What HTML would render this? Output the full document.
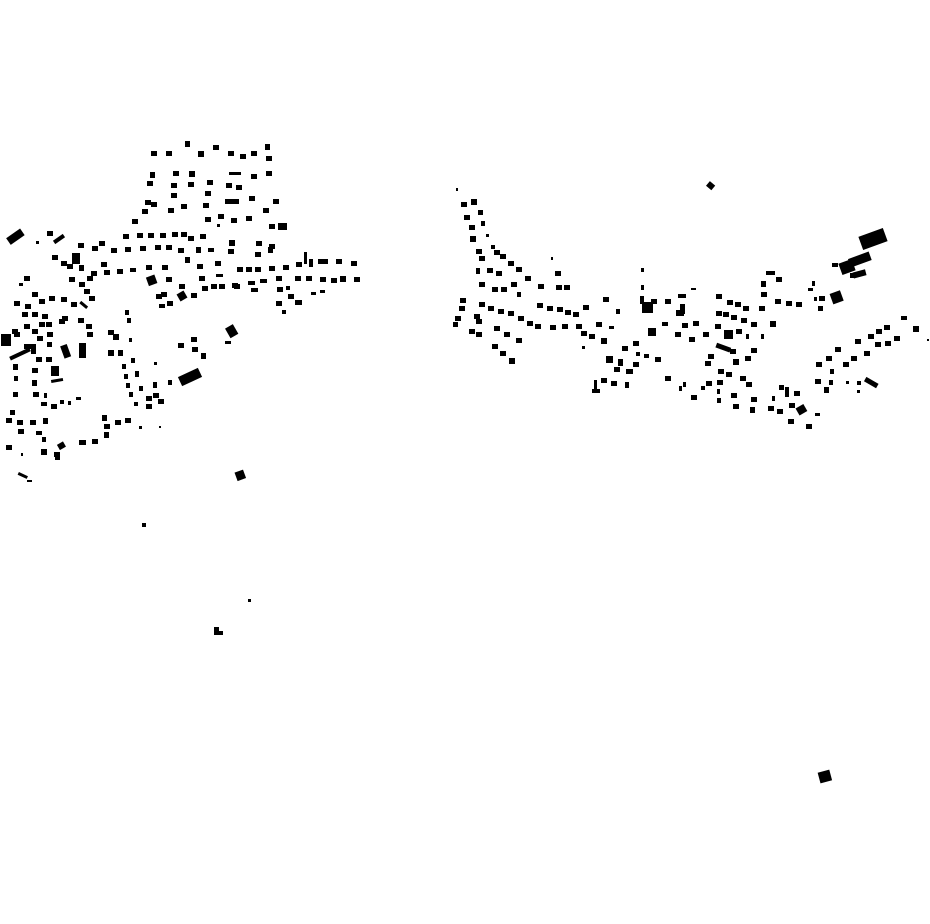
<!DOCTYPE html>
<html><head><meta charset="utf-8"><style>
html,body{margin:0;padding:0;background:#fff;width:930px;height:924px;overflow:hidden}
svg{display:block}
rect{width:6px;height:5px;fill:#000}
</style></head><body>
<svg width="930" height="924" viewBox="0 0 930 924" xmlns="http://www.w3.org/2000/svg">
<rect x="151" y="151"/><rect x="166" y="151"/><rect x="185" y="141" style="width:5px;height:6px"/><rect x="198" y="151" style="width:6px;height:6px"/><rect x="213" y="145"/><rect x="228" y="151"/><rect x="240" y="154"/><rect x="251" y="151"/><rect x="265" y="144" style="width:5px;height:6px"/><rect x="266" y="156"/>
<rect x="150" y="172" style="width:5px;height:6px"/><rect x="173" y="171"/><rect x="189" y="171" style="width:6px;height:6px"/><rect x="207" y="180"/><rect x="229" y="172" style="width:12px;height:3px"/><rect x="251" y="174"/><rect x="266" y="171"/>
<rect x="147" y="181"/><rect x="171" y="183"/><rect x="188" y="182"/><rect x="226" y="183"/><rect x="236" y="185"/>
<rect x="171" y="193"/><rect x="205" y="191"/><rect x="249" y="196"/><rect x="225" y="199" style="width:14px;height:5px"/>
<rect x="145" y="200"/><rect x="151" y="202"/><rect x="181" y="204"/><rect x="203" y="203"/><rect x="273" y="199"/>
<rect x="142" y="209"/><rect x="168" y="208"/><rect x="218" y="214"/><rect x="246" y="216"/><rect x="263" y="208"/>
<rect x="132" y="219"/><rect x="205" y="217"/><rect x="231" y="218"/>
<rect x="269" y="224"/><rect x="278" y="223" style="width:9px;height:7px"/><rect x="217" y="224" style="width:3px;height:3px"/>
<rect x="123" y="234"/><rect x="137" y="233"/><rect x="148" y="233"/><rect x="160" y="233"/><rect x="172" y="232"/><rect x="181" y="232"/><rect x="188" y="236"/><rect x="200" y="234"/><rect x="229" y="240" style="width:6px;height:6px"/><rect x="256" y="241"/><rect x="269" y="244"/>
<rect x="7" y="233" style="width:17px;height:8px" transform="rotate(-35 15 237)"/><rect x="47" y="231"/><rect x="53" y="237" style="width:12px;height:4px" transform="rotate(-35 59 239)"/>
<rect x="78" y="243"/><rect x="92" y="246"/><rect x="99" y="241"/><rect x="111" y="248"/><rect x="125" y="247"/><rect x="140" y="246"/><rect x="155" y="245"/><rect x="166" y="245"/><rect x="178" y="248"/><rect x="196" y="247" style="width:5px;height:6px"/><rect x="208" y="248" style="width:6px;height:4px"/><rect x="228" y="249"/><rect x="255" y="252"/><rect x="268" y="247" style="width:5px;height:6px"/>
<rect x="72" y="253" style="width:8px;height:11px"/><rect x="79" y="265" style="width:5px;height:6px"/><rect x="101" y="262"/><rect x="104" y="270"/><rect x="117" y="269"/><rect x="130" y="268" style="width:6px;height:4px"/><rect x="146" y="265"/><rect x="162" y="265"/><rect x="185" y="257" style="width:5px;height:6px"/><rect x="197" y="264"/><rect x="215" y="261"/><rect x="237" y="267"/><rect x="246" y="267"/><rect x="255" y="267"/><rect x="269" y="266"/><rect x="283" y="265"/><rect x="296" y="262"/><rect x="304" y="252" style="width:3px;height:12px"/><rect x="309" y="259" style="width:4px;height:8px"/><rect x="318" y="259" style="width:10px;height:5px"/><rect x="336" y="259"/><rect x="351" y="261"/>
<rect x="147" y="276" style="width:9px;height:9px" transform="rotate(-20 151 280)"/><rect x="166" y="277"/><rect x="199" y="276"/><rect x="216" y="274" style="width:7px;height:3px"/><rect x="234" y="284"/><rect x="248" y="281" style="width:7px;height:4px"/><rect x="260" y="279" style="width:7px;height:4px"/><rect x="276" y="276"/><rect x="286" y="286" style="width:4px;height:4px"/><rect x="295" y="276"/><rect x="306" y="276"/><rect x="320" y="277"/><rect x="331" y="278"/><rect x="340" y="276" style="width:6px;height:6px"/><rect x="354" y="277"/>
<rect x="202" y="286"/><rect x="211" y="284"/><rect x="219" y="284"/><rect x="232" y="283"/><rect x="251" y="288" style="width:7px;height:4px"/><rect x="277" y="287"/>
<rect x="161" y="292" style="width:6px;height:5px"/><rect x="179" y="284" style="width:6px;height:5px"/><rect x="178" y="292" style="width:8px;height:8px" transform="rotate(-30 182 296)"/><rect x="191" y="293"/><rect x="167" y="301" style="width:6px;height:5px"/><rect x="159" y="304" style="width:6px;height:4px"/><rect x="288" y="294"/><rect x="295" y="300" style="width:7px;height:5px"/><rect x="311" y="292" style="width:5px;height:3px"/><rect x="320" y="290" style="width:5px;height:3px"/><rect x="276" y="301"/><rect x="282" y="310" style="width:4px;height:4px"/>
<rect x="156" y="294"/>
<rect x="36" y="241" style="width:3px;height:3px"/><rect x="52" y="255"/><rect x="61" y="261"/><rect x="67" y="264"/><rect x="69" y="277"/><rect x="79" y="282"/><rect x="87" y="276"/><rect x="91" y="271"/><rect x="84" y="289"/><rect x="89" y="296"/><rect x="71" y="302"/><rect x="79" y="303" style="width:9px;height:3px" transform="rotate(40 83 305)"/><rect x="61" y="297"/><rect x="49" y="296"/><rect x="39" y="299"/><rect x="32" y="292"/><rect x="25" y="304"/><rect x="24" y="276"/><rect x="19" y="283" style="width:4px;height:3px"/><rect x="14" y="301"/><rect x="22" y="312"/><rect x="32" y="312"/><rect x="42" y="314"/><rect x="24" y="324"/><rect x="12" y="329"/><rect x="1" y="334" style="width:10px;height:12px"/><rect x="14" y="332"/><rect x="32" y="329"/><rect x="39" y="322"/><rect x="46" y="322"/><rect x="47" y="332"/><rect x="37" y="336"/><rect x="31" y="344" style="width:5px;height:10px"/><rect x="9" y="352" style="width:22px;height:4px" transform="rotate(-25 20 354)"/><rect x="24" y="344" style="width:8px;height:5px"/><rect x="59" y="319"/><rect x="62" y="316"/><rect x="78" y="318"/><rect x="86" y="324"/><rect x="87" y="332"/><rect x="62" y="345" style="width:7px;height:13px" transform="rotate(-20 65 351)"/><rect x="79" y="343" style="width:7px;height:15px"/><rect x="47" y="342" style="width:5px;height:5px"/><rect x="46" y="357"/><rect x="36" y="357"/><rect x="13" y="364" style="width:5px;height:6px"/><rect x="14" y="376" style="width:4px;height:5px"/><rect x="32" y="368"/><rect x="32" y="380" style="width:5px;height:6px"/><rect x="51" y="366" style="width:8px;height:10px"/><rect x="51" y="379" style="width:12px;height:3px" transform="rotate(-10 57 380)"/>
<rect x="108" y="330"/><rect x="113" y="334" style="width:6px;height:6px"/><rect x="108" y="350" style="width:6px;height:6px"/><rect x="118" y="350" style="width:5px;height:6px"/><rect x="125" y="310" style="width:4px;height:5px"/><rect x="127" y="318" style="width:4px;height:5px"/><rect x="129" y="338" style="width:3px;height:4px"/><rect x="131" y="358" style="width:4px;height:5px"/><rect x="122" y="364" style="width:4px;height:5px"/><rect x="124" y="374" style="width:4px;height:5px"/><rect x="126" y="383" style="width:4px;height:5px"/><rect x="129" y="392" style="width:4px;height:5px"/><rect x="134" y="402" style="width:4px;height:4px"/><rect x="135" y="371" style="width:4px;height:6px"/><rect x="139" y="386" style="width:4px;height:5px"/><rect x="146" y="396"/><rect x="146" y="404"/><rect x="153" y="382" style="width:4px;height:6px"/><rect x="153" y="393"/><rect x="158" y="399"/><rect x="154" y="362" style="width:3px;height:3px"/><rect x="168" y="380" style="width:4px;height:5px"/><rect x="179" y="372" style="width:22px;height:10px" transform="rotate(-25 190 377)"/>
<rect x="178" y="343"/><rect x="191" y="337"/><rect x="192" y="347"/><rect x="201" y="353" style="width:5px;height:6px"/><rect x="227" y="326" style="width:9px;height:11px" transform="rotate(-30 231 331)"/><rect x="225" y="341" style="width:6px;height:3px"/>
<rect x="13" y="392" style="width:5px;height:5px"/><rect x="33" y="392"/><rect x="44" y="393" style="width:3px;height:5px"/><rect x="41" y="402" style="width:6px;height:4px"/><rect x="51" y="404"/><rect x="60" y="400" style="width:4px;height:4px"/><rect x="68" y="401" style="width:3px;height:4px"/><rect x="76" y="397" style="width:5px;height:3px"/>
<rect x="10" y="410" style="width:5px;height:5px"/><rect x="6" y="418"/><rect x="17" y="420"/><rect x="30" y="420"/><rect x="43" y="418" style="width:5px;height:6px"/><rect x="18" y="429"/><rect x="36" y="431" style="width:6px;height:4px"/><rect x="42" y="437" style="width:4px;height:5px"/><rect x="79" y="440" style="width:7px;height:5px"/><rect x="92" y="439"/><rect x="104" y="432" style="width:5px;height:6px"/><rect x="102" y="415" style="width:5px;height:6px"/><rect x="104" y="424"/><rect x="115" y="420"/><rect x="125" y="418" style="width:6px;height:5px"/><rect x="139" y="426" style="width:3px;height:3px"/><rect x="159" y="426" style="width:2px;height:2px"/>
<rect x="6" y="445"/><rect x="21" y="453" style="width:2px;height:3px"/><rect x="41" y="449" style="width:6px;height:6px"/><rect x="54" y="452"/><rect x="58" y="443" style="width:7px;height:6px" transform="rotate(-30 61 446)"/><rect x="55" y="456" style="width:5px;height:4px"/>
<rect x="18" y="474" style="width:10px;height:3px" transform="rotate(25 23 475)"/><rect x="27" y="480" style="width:5px;height:2px"/><rect x="236" y="471" style="width:9px;height:9px" transform="rotate(-20 240 476)"/><rect x="142" y="523" style="width:4px;height:4px"/><rect x="248" y="599" style="width:3px;height:3px"/><rect x="214" y="627" style="width:5px;height:8px"/><rect x="216" y="631" style="width:7px;height:4px"/><rect x="819" y="771" style="width:12px;height:11px" transform="rotate(-15 825 777)"/><rect x="707" y="183" style="width:7px;height:6px" transform="rotate(40 711 186)"/>
<rect x="456" y="188" style="width:2px;height:3px"/><rect x="461" y="202"/><rect x="471" y="199" style="width:6px;height:6px"/><rect x="464" y="215"/><rect x="478" y="210" style="width:5px;height:5px"/><rect x="469" y="225"/><rect x="481" y="221" style="width:4px;height:5px"/><rect x="470" y="236" style="width:6px;height:6px"/><rect x="486" y="234" style="width:3px;height:3px"/><rect x="476" y="249"/><rect x="491" y="245" style="width:4px;height:4px"/><rect x="479" y="256"/><rect x="494" y="250"/><rect x="500" y="254"/><rect x="508" y="261"/><rect x="516" y="267"/><rect x="525" y="276"/><rect x="538" y="284"/><rect x="476" y="268" style="width:4px;height:6px"/><rect x="487" y="268"/><rect x="496" y="271"/><rect x="479" y="282"/><rect x="492" y="287"/><rect x="501" y="287" style="width:6px;height:5px"/><rect x="511" y="282"/><rect x="517" y="292" style="width:4px;height:5px"/><rect x="551" y="257" style="width:2px;height:3px"/><rect x="555" y="271"/><rect x="556" y="285"/><rect x="564" y="285"/>
<rect x="460" y="298"/><rect x="459" y="306"/><rect x="455" y="316"/><rect x="453" y="322" style="width:5px;height:5px"/><rect x="479" y="302"/><rect x="488" y="306"/><rect x="498" y="309"/><rect x="508" y="311"/><rect x="518" y="316"/><rect x="527" y="321"/><rect x="535" y="324"/><rect x="474" y="314"/><rect x="476" y="319"/><rect x="469" y="329"/><rect x="476" y="332"/><rect x="494" y="326"/><rect x="504" y="332"/><rect x="516" y="338"/><rect x="492" y="344"/><rect x="500" y="351"/><rect x="509" y="358" style="width:6px;height:6px"/>
<rect x="537" y="303"/><rect x="547" y="306"/><rect x="557" y="307"/><rect x="565" y="310"/><rect x="573" y="312"/><rect x="583" y="305"/><rect x="576" y="324"/><rect x="550" y="325"/><rect x="562" y="324"/><rect x="581" y="331"/><rect x="589" y="334"/><rect x="601" y="338" style="width:6px;height:6px"/><rect x="582" y="346" style="width:3px;height:3px"/><rect x="596" y="322"/><rect x="609" y="326" style="width:5px;height:3px"/><rect x="603" y="297"/><rect x="616" y="309" style="width:4px;height:5px"/>
<rect x="641" y="268" style="width:3px;height:4px"/><rect x="641" y="285" style="width:3px;height:5px"/><rect x="640" y="296" style="width:4px;height:8px"/><rect x="642" y="302" style="width:11px;height:11px"/><rect x="648" y="328" style="width:8px;height:8px"/><rect x="651" y="299"/><rect x="665" y="299"/><rect x="678" y="294" style="width:8px;height:4px"/><rect x="680" y="304" style="width:5px;height:10px"/><rect x="676" y="310" style="width:8px;height:6px"/><rect x="691" y="288" style="width:5px;height:2px"/><rect x="662" y="322" style="width:6px;height:4px"/><rect x="682" y="323"/><rect x="693" y="321"/><rect x="675" y="332"/><rect x="689" y="337"/><rect x="703" y="332"/>
<rect x="622" y="346"/><rect x="633" y="341"/><rect x="636" y="352" style="width:4px;height:4px"/><rect x="644" y="354" style="width:5px;height:4px"/><rect x="655" y="357"/><rect x="606" y="356" style="width:7px;height:7px"/><rect x="618" y="359" style="width:5px;height:7px"/><rect x="633" y="362"/><rect x="614" y="367"/><rect x="626" y="369" style="width:7px;height:5px"/><rect x="601" y="378"/><rect x="611" y="381"/><rect x="594" y="380" style="width:3px;height:10px"/><rect x="592" y="389" style="width:8px;height:4px"/><rect x="625" y="382" style="width:4px;height:6px"/><rect x="665" y="376"/><rect x="679" y="386" style="width:3px;height:5px"/><rect x="683" y="382" style="width:3px;height:5px"/><rect x="691" y="395"/><rect x="701" y="386" style="width:4px;height:4px"/><rect x="706" y="381"/><rect x="717" y="380"/><rect x="717" y="389" style="width:3px;height:5px"/><rect x="717" y="398" style="width:4px;height:5px"/>
<rect x="716" y="294"/><rect x="727" y="300"/><rect x="735" y="302"/><rect x="743" y="306"/><rect x="716" y="311"/><rect x="723" y="312"/><rect x="731" y="315"/><rect x="741" y="318"/><rect x="751" y="322"/><rect x="759" y="306"/><rect x="715" y="324"/><rect x="724" y="330" style="width:9px;height:9px"/><rect x="736" y="329"/><rect x="746" y="334" style="width:3px;height:5px"/><rect x="761" y="334" style="width:3px;height:5px"/><rect x="770" y="321" style="width:6px;height:6px"/><rect x="716" y="345" style="width:15px;height:5px" transform="rotate(20 723 347)"/><rect x="730" y="349"/><rect x="751" y="348"/><rect x="745" y="356"/><rect x="733" y="359" style="width:6px;height:6px"/><rect x="708" y="354"/><rect x="705" y="361" style="width:6px;height:5px"/><rect x="718" y="369"/><rect x="726" y="372"/><rect x="740" y="376"/><rect x="746" y="382" style="width:6px;height:5px"/><rect x="731" y="393"/><rect x="751" y="397"/><rect x="733" y="404"/><rect x="750" y="407" style="width:5px;height:6px"/>
<rect x="766" y="271" style="width:9px;height:4px"/><rect x="776" y="277"/><rect x="761" y="281" style="width:5px;height:6px"/><rect x="761" y="292"/><rect x="775" y="299"/><rect x="786" y="301"/><rect x="796" y="302"/><rect x="808" y="288" style="width:5px;height:3px"/><rect x="812" y="281" style="width:3px;height:5px"/><rect x="814" y="297" style="width:3px;height:4px"/><rect x="819" y="296" style="width:6px;height:5px"/><rect x="818" y="306" style="width:5px;height:5px"/><rect x="831" y="292" style="width:11px;height:11px" transform="rotate(-20 836 297)"/>
<rect x="832" y="263" style="width:6px;height:4px"/><rect x="840" y="261" style="width:14px;height:12px" transform="rotate(-20 847 267)"/><rect x="849" y="255" style="width:22px;height:9px" transform="rotate(-20 860 260)"/><rect x="853" y="271" style="width:13px;height:6px" transform="rotate(-15 859 274)"/><rect x="850" y="273" style="width:5px;height:5px"/><rect x="860" y="232" style="width:26px;height:14px" transform="rotate(-20 873 239)"/>
<rect x="779" y="385" style="width:5px;height:5px"/><rect x="785" y="387" style="width:4px;height:10px"/><rect x="794" y="391"/><rect x="789" y="403"/><rect x="797" y="406" style="width:9px;height:8px" transform="rotate(-30 801 410)"/><rect x="815" y="413" style="width:5px;height:3px"/><rect x="772" y="396" style="width:3px;height:5px"/><rect x="768" y="406"/><rect x="777" y="409"/><rect x="788" y="419"/><rect x="806" y="424"/>
<rect x="816" y="362"/><rect x="826" y="356"/><rect x="835" y="347"/><rect x="830" y="369" style="width:4px;height:5px"/><rect x="843" y="362"/><rect x="851" y="356"/><rect x="855" y="339"/><rect x="864" y="351"/><rect x="868" y="334"/><rect x="876" y="329"/><rect x="884" y="325" style="width:6px;height:5px"/><rect x="875" y="342"/><rect x="885" y="341"/><rect x="894" y="336"/><rect x="901" y="316" style="width:6px;height:4px"/><rect x="913" y="326" style="width:6px;height:6px"/><rect x="927" y="339" style="width:2px;height:2px"/>
<rect x="815" y="379" style="width:6px;height:5px"/><rect x="824" y="387" style="width:5px;height:6px"/><rect x="829" y="380" style="width:4px;height:5px"/><rect x="846" y="381" style="width:3px;height:3px"/><rect x="857" y="381" style="width:4px;height:4px"/><rect x="864" y="380" style="width:14px;height:5px" transform="rotate(30 871 383)"/><rect x="857" y="390" style="width:3px;height:3px"/>
</svg>
</body></html>
